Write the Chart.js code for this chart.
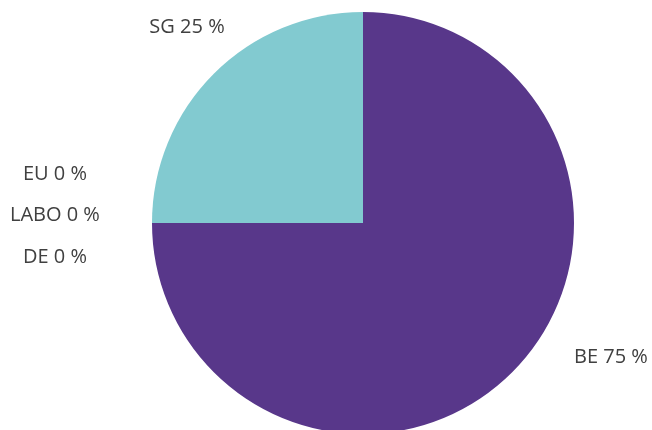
<!DOCTYPE html>
<html>
<head>
<meta charset="utf-8">
<script src="https://cdn.jsdelivr.net/npm/chart.js@4/dist/chart.umd.min.js"></script>
<style>
  html, body { margin: 0; padding: 0; background: #ffffff; overflow: hidden; }
  #wrap { position: relative; width: 652px; height: 440px; }
</style>
</head>
<body>
<div id="wrap"><canvas id="c" width="652" height="440"></canvas></div>
<script>
const categories = ["BE", "DE", "LABO", "EU", "SG"];
const shares = [75, 0, 0, 0, 25];
const sliceColors = ["#58378A", "#4472C4", "#A5A5A5", "#ED7D31", "#82CAD0"];

// label anchors expressed as multiples of the pie radius from its centre
const labelPlacement = {
  BE:   [1.175, 0.635],
  SG:   [-0.834, -0.929],
  EU:   [-1.46, -0.232],
  LABO: [-1.46, -0.038],
  DE:   [-1.46, 0.161]
};

const labelPlugin = {
  id: 'sliceLabels',
  afterDatasetsDraw(chart) {
    const ctx = chart.ctx;
    const meta = chart.getDatasetMeta(0);
    ctx.save();
    ctx.font = '20px "Open Sans", "Liberation Sans", sans-serif';
    ctx.fillStyle = '#404040';
    ctx.textAlign = 'center';
    ctx.textBaseline = 'middle';
    meta.data.forEach((arc, i) => {
      const name = chart.data.labels[i];
      const p = labelPlacement[name];
      const r = arc.outerRadius;
      const x = arc.x + p[0] * r;
      const y = arc.y + p[1] * r;
      ctx.fillText(name + ' ' + chart.data.datasets[0].data[i] + ' %', x, y);
    });
    ctx.restore();
  }
};

new Chart(document.getElementById('c'), {
  type: 'pie',
  data: {
    labels: categories,
    datasets: [{
      data: shares,
      backgroundColor: sliceColors,
      borderWidth: 0
    }]
  },
  options: {
    responsive: false,
    animation: false,
    layout: { padding: { left: 152, right: 78, top: 12, bottom: 6 } },
    plugins: {
      legend: { display: false },
      tooltip: { enabled: false }
    }
  },
  plugins: [labelPlugin]
});
</script>
</body>
</html>
